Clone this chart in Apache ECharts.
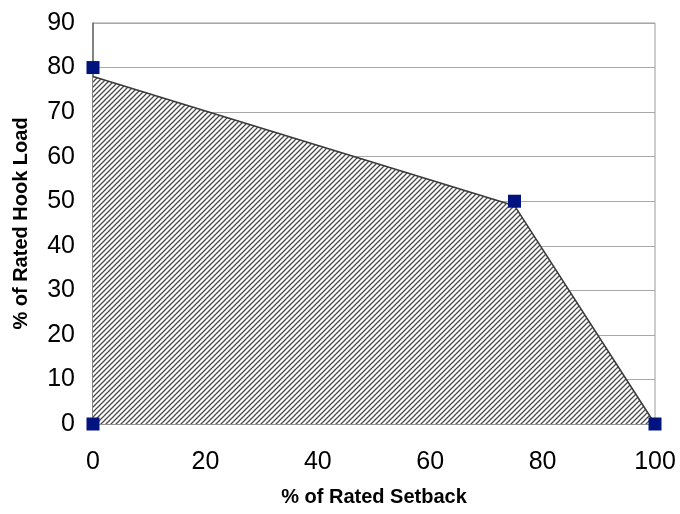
<!DOCTYPE html>
<html>
<head>
<meta charset="utf-8">
<script src="https://cdn.jsdelivr.net/npm/echarts@6/dist/echarts.min.js"></script>
<style>html,body{margin:0;padding:0;background:#fff}#chart{width:680px;height:514px}</style>
</head>
<body>
<div id="chart"></div>
<script>
// Operating envelope: rated setback (%) vs rated hook load (%)
const setbackPoints = [0, 0, 75, 100];
const hookLoadPoints = [0, 80, 50, 0];
// Boundary of the shaded region
const envelopeSetback = [0, 75, 100];
const envelopeHookLoad = [78, 49, 0];
const xTicks = [0, 20, 40, 60, 80, 100];
const yTicks = [0, 10, 20, 30, 40, 50, 60, 70, 80, 90];

// Diagonal hatch pattern for the area fill
function hatch() {
  const s = 5;
  const c = document.createElement('canvas');
  c.width = s; c.height = s;
  const g = c.getContext('2d');
  g.fillStyle = '#fff';
  g.fillRect(0, 0, s, s);
  g.strokeStyle = '#4a4a4a';
  g.lineWidth = 1.3;
  g.beginPath();
  g.moveTo(-1, s + 1); g.lineTo(s + 1, -1);
  g.moveTo(-1, 1); g.lineTo(1, -1);
  g.moveTo(s - 1, s + 1); g.lineTo(s + 1, s - 1);
  g.stroke();
  return c;
}

const chart = echarts.init(document.getElementById('chart'));
const font = '"Liberation Sans", Arial, sans-serif';
chart.setOption({
  animation: false,
  grid: { left: 93, right: 25, top: 23, bottom: 90, show: true, borderColor: '#9a9a9a', borderWidth: 1 },
  xAxis: {
    type: 'value', min: xTicks[0], max: xTicks[xTicks.length - 1], interval: 20,
    name: '% of Rated Setback', nameLocation: 'middle', nameGap: 63,
    nameTextStyle: { fontFamily: font, fontWeight: 'bold', fontSize: 20, color: '#000' },
    axisLine: { show: true, lineStyle: { color: '#8a8a8a', width: 1.5 } },
    axisTick: { show: false },
    splitLine: { show: false },
    axisLabel: { fontFamily: font, fontSize: 25, color: '#000', margin: 26 }
  },
  yAxis: {
    type: 'value', min: yTicks[0], max: yTicks[yTicks.length - 1], interval: 10,
    name: '% of Rated Hook Load', nameLocation: 'middle', nameGap: 62,
    nameTextStyle: { fontFamily: font, fontWeight: 'bold', fontSize: 20, color: '#000' },
    axisLine: { show: true, lineStyle: { color: '#6a6a6a', width: 1.5 } },
    axisTick: { show: false },
    splitLine: { show: true, lineStyle: { color: '#a8a8a8', width: 1.2 } },
    axisLabel: { fontFamily: font, fontSize: 25, color: '#000', margin: 18 }
  },
  series: [
    {
      type: 'line',
      data: envelopeSetback.map((x, i) => [x, envelopeHookLoad[i]]),
      symbol: 'none',
      lineStyle: { color: '#3a3a3a', width: 1.5 },
      areaStyle: { color: { image: hatch(), repeat: 'repeat' }, opacity: 1 },
      z: 2
    },
    {
      type: 'scatter',
      data: setbackPoints.map((x, i) => [x, hookLoadPoints[i]]),
      symbol: 'rect', symbolSize: 13,
      itemStyle: { color: '#00137f', opacity: 1 },
      clip: false,
      z: 5
    }
  ]
});
</script>
</body>
</html>
